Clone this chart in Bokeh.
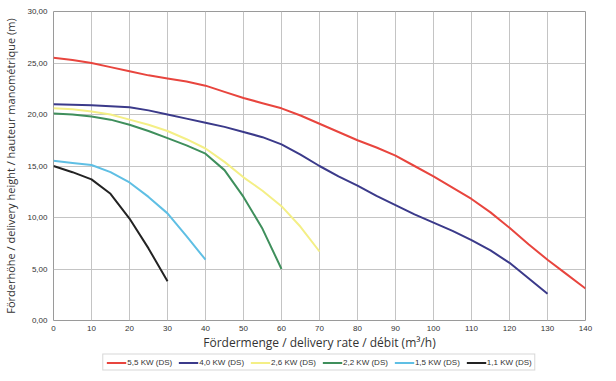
from bokeh.plotting import figure
from bokeh.models import Legend, LegendItem, FixedTicker, Range1d
from bokeh.layouts import column
from bokeh.embed import file_html
from bokeh.resources import INLINE

x_ticks = [0, 10, 20, 30, 40, 50, 60, 70, 80, 90, 100, 110, 120, 130, 140]
y_ticks = [0, 5, 10, 15, 20, 25, 30]
y_tick_labels = ["0,00", "5,00", "10,00", "15,00", "20,00", "25,00", "30,00"]

q_55 = [0, 5, 10, 15, 20, 25, 30, 35, 40, 45, 50, 55, 60, 65, 70, 75, 80, 85, 90, 95, 100, 105, 110, 115, 120, 125, 130, 135, 140]
h_55 = [25.5, 25.3, 25.0, 24.6, 24.2, 23.8, 23.5, 23.2, 22.8, 22.2, 21.6, 21.1, 20.6, 19.9, 19.1, 18.3, 17.5, 16.8, 16.0, 15.0, 14.0, 12.9, 11.8, 10.5, 9.0, 7.4, 5.9, 4.5, 3.1]

q_40 = [0, 5, 10, 15, 20, 25, 30, 35, 40, 45, 50, 55, 60, 65, 70, 75, 80, 85, 90, 95, 100, 105, 110, 115, 120, 125, 130]
h_40 = [21.0, 20.95, 20.9, 20.8, 20.7, 20.4, 20.0, 19.6, 19.2, 18.8, 18.3, 17.8, 17.1, 16.1, 15.0, 14.0, 13.1, 12.1, 11.2, 10.3, 9.5, 8.7, 7.8, 6.8, 5.6, 4.1, 2.6]

q_26 = [0, 5, 10, 15, 20, 25, 30, 35, 40, 45, 50, 55, 60, 65, 70]
h_26 = [20.6, 20.5, 20.3, 20.0, 19.5, 19.0, 18.4, 17.6, 16.7, 15.4, 13.9, 12.6, 11.1, 9.1, 6.7]

q_22 = [0, 5, 10, 15, 20, 25, 30, 35, 40, 45, 50, 55, 60]
h_22 = [20.1, 20.0, 19.8, 19.5, 19.0, 18.4, 17.7, 17.0, 16.2, 14.6, 12.0, 8.9, 5.0]

q_15 = [0, 5, 10, 15, 20, 25, 30, 35, 40]
h_15 = [15.5, 15.3, 15.1, 14.4, 13.4, 12.0, 10.4, 8.2, 5.9]

q_11 = [0, 5, 10, 15, 20, 25, 30]
h_11 = [15.0, 14.4, 13.7, 12.3, 9.9, 7.0, 3.8]

series_names = ["5,5 KW (DS)", "4,0 KW (DS)", "2,6 KW (DS)", "2,2 KW (DS)", "1,5 KW (DS)", "1,1 KW (DS)"]
series_colors = ["#e8453e", "#3b3a8a", "#f4ef86", "#3f8f5c", "#5fbfe4", "#232323"]

p = figure(width=608, height=353, output_backend="svg", toolbar_location=None,
           x_range=Range1d(0, 140), y_range=Range1d(0, 30),
           min_border_left=45, min_border_right=15, min_border_top=11, min_border_bottom=30)

p.outline_line_color = "#9a9a9a"
p.outline_line_width = 1
p.background_fill_color = "white"
p.border_fill_color = "white"

p.xgrid.grid_line_color = "#c4c4c4"
p.ygrid.grid_line_color = "#c4c4c4"
p.xaxis.ticker = FixedTicker(ticks=x_ticks)
p.yaxis.ticker = FixedTicker(ticks=y_ticks)
p.yaxis.major_label_overrides = {t: l for t, l in zip(y_ticks, y_tick_labels)}

for ax in (p.xaxis[0], p.yaxis[0]):
    ax.axis_line_color = None
    ax.major_tick_line_color = None
    ax.minor_tick_line_color = None
    ax.major_tick_out = 0
    ax.major_tick_in = 0
    ax.minor_tick_out = 0
    ax.minor_tick_in = 0
    ax.major_label_text_font = "Liberation Sans"
    ax.major_label_text_font_size = "8px"
    ax.major_label_text_color = "#333333"
    ax.axis_label_text_font = "Open Sans"
    ax.axis_label_text_font_style = "normal"
    ax.axis_label_text_color = "#333333"

p.xaxis.axis_label = "Fördermenge / delivery rate / débit (m³/h)"
p.xaxis.axis_label_text_font_size = "12px"
p.xaxis.major_label_standoff = 5
p.xaxis.axis_label_standoff = 0
p.yaxis.axis_label = "Förderhöhe / delivery height / hauteur manométrique (m)"
p.yaxis.axis_label_text_font_size = "11px"
p.yaxis.major_label_standoff = 6
p.yaxis.axis_label_standoff = 6

data = [(q_55, h_55), (q_40, h_40), (q_26, h_26), (q_22, h_22), (q_15, h_15), (q_11, h_11)]
for (q, h), color in zip(data, series_colors):
    p.line(q, h, line_color=color, line_width=2, line_join="round")

# legend strip below the chart (its view range shows none of the data)
lg = figure(width=608, height=18, output_backend="svg", toolbar_location=None,
            x_axis_type=None, y_axis_type=None,
            x_range=Range1d(-20, -10), y_range=Range1d(-20, -10),
            min_border_left=45, min_border_right=23, min_border_top=0, min_border_bottom=0)
lg.outline_line_color = None
lg.xgrid.visible = False
lg.ygrid.visible = False
lg.border_fill_color = "white"

items = []
for (q, h), name, color in zip(data, series_names, series_colors):
    r = lg.line(q, h, line_color=color, line_width=2)
    items.append(LegendItem(label=name, renderers=[r]))

legend = Legend(items=items, orientation="horizontal", location="center",
                label_text_font="Liberation Sans", label_text_font_size="8px",
                label_text_color="#333333", glyph_width=20, glyph_height=8,
                label_standoff=1, spacing=6, padding=3, margin=0,
                border_line_color="#b0b0b0", border_line_width=1,
                label_height=8)
lg.add_layout(legend, "center")

layout = column(p, lg, spacing=0)
open("out.html", "w").write(file_html(layout, INLINE))
